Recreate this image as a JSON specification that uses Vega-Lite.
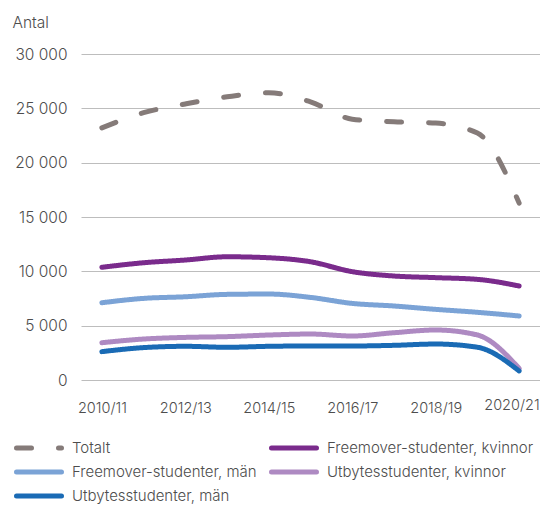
{
  "$schema": "https://vega.github.io/schema/vega-lite/v6.json",
  "width": 459,
  "height": 326,
  "autosize": "none",
  "padding": {"left": 81, "top": 54, "right": 0, "bottom": 125},
  "background": "white",
  "config": {"view": {"stroke": null}, "font": "Inter"},
  "data": {"values": [
    {"year": "2010/11", "series": "Totalt", "value": 23200},
    {"year": "2011/12", "series": "Totalt", "value": 24600},
    {"year": "2012/13", "series": "Totalt", "value": 25400},
    {"year": "2013/14", "series": "Totalt", "value": 26060},
    {"year": "2014/15", "series": "Totalt", "value": 26430},
    {"year": "2015/16", "series": "Totalt", "value": 25600},
    {"year": "2016/17", "series": "Totalt", "value": 24000},
    {"year": "2017/18", "series": "Totalt", "value": 23760},
    {"year": "2018/19", "series": "Totalt", "value": 23640},
    {"year": "2019/20", "series": "Totalt", "value": 22720},
    {"year": "2020/21", "series": "Totalt", "value": 16280},
    {"year": "2010/11", "series": "Freemover-studenter, kvinnor", "value": 10370},
    {"year": "2011/12", "series": "Freemover-studenter, kvinnor", "value": 10790},
    {"year": "2012/13", "series": "Freemover-studenter, kvinnor", "value": 11040},
    {"year": "2013/14", "series": "Freemover-studenter, kvinnor", "value": 11340},
    {"year": "2014/15", "series": "Freemover-studenter, kvinnor", "value": 11250},
    {"year": "2015/16", "series": "Freemover-studenter, kvinnor", "value": 10880},
    {"year": "2016/17", "series": "Freemover-studenter, kvinnor", "value": 9970},
    {"year": "2017/18", "series": "Freemover-studenter, kvinnor", "value": 9570},
    {"year": "2018/19", "series": "Freemover-studenter, kvinnor", "value": 9420},
    {"year": "2019/20", "series": "Freemover-studenter, kvinnor", "value": 9260},
    {"year": "2020/21", "series": "Freemover-studenter, kvinnor", "value": 8650},
    {"year": "2010/11", "series": "Freemover-studenter, män", "value": 7110},
    {"year": "2011/12", "series": "Freemover-studenter, män", "value": 7510},
    {"year": "2012/13", "series": "Freemover-studenter, män", "value": 7660},
    {"year": "2013/14", "series": "Freemover-studenter, män", "value": 7880},
    {"year": "2014/15", "series": "Freemover-studenter, män", "value": 7910},
    {"year": "2015/16", "series": "Freemover-studenter, män", "value": 7600},
    {"year": "2016/17", "series": "Freemover-studenter, män", "value": 7050},
    {"year": "2017/18", "series": "Freemover-studenter, män", "value": 6810},
    {"year": "2018/19", "series": "Freemover-studenter, män", "value": 6500},
    {"year": "2019/20", "series": "Freemover-studenter, män", "value": 6230},
    {"year": "2020/21", "series": "Freemover-studenter, män", "value": 5890},
    {"year": "2010/11", "series": "Utbytesstudenter, kvinnor", "value": 3430},
    {"year": "2011/12", "series": "Utbytesstudenter, kvinnor", "value": 3770},
    {"year": "2012/13", "series": "Utbytesstudenter, kvinnor", "value": 3920},
    {"year": "2013/14", "series": "Utbytesstudenter, kvinnor", "value": 3990},
    {"year": "2014/15", "series": "Utbytesstudenter, kvinnor", "value": 4140},
    {"year": "2015/16", "series": "Utbytesstudenter, kvinnor", "value": 4230},
    {"year": "2016/17", "series": "Utbytesstudenter, kvinnor", "value": 4050},
    {"year": "2017/18", "series": "Utbytesstudenter, kvinnor", "value": 4350},
    {"year": "2018/19", "series": "Utbytesstudenter, kvinnor", "value": 4600},
    {"year": "2019/20", "series": "Utbytesstudenter, kvinnor", "value": 4140},
    {"year": "2020/21", "series": "Utbytesstudenter, kvinnor", "value": 1070},
    {"year": "2010/11", "series": "Utbytesstudenter, män", "value": 2610},
    {"year": "2011/12", "series": "Utbytesstudenter, män", "value": 2980},
    {"year": "2012/13", "series": "Utbytesstudenter, män", "value": 3100},
    {"year": "2013/14", "series": "Utbytesstudenter, män", "value": 3010},
    {"year": "2014/15", "series": "Utbytesstudenter, män", "value": 3100},
    {"year": "2015/16", "series": "Utbytesstudenter, män", "value": 3130},
    {"year": "2016/17", "series": "Utbytesstudenter, män", "value": 3130},
    {"year": "2017/18", "series": "Utbytesstudenter, män", "value": 3190},
    {"year": "2018/19", "series": "Utbytesstudenter, män", "value": 3310},
    {"year": "2019/20", "series": "Utbytesstudenter, män", "value": 3010},
    {"year": "2020/21", "series": "Utbytesstudenter, män", "value": 830}
  ]},
  "mark": {"type": "line", "strokeWidth": 5, "strokeCap": "round", "strokeJoin": "round", "interpolate": "monotone"},
  "encoding": {
    "x": {
      "field": "year", "type": "ordinal",
      "scale": {"type": "point", "padding": 0.5},
      "axis": {
        "title": null, "values": ["2010/11", "2012/13", "2014/15", "2016/17", "2018/19", "2020/21"],
        "labelAngle": 0, "domain": false, "ticks": false, "grid": false,
        "labelFontSize": 14.5, "labelFontWeight": 300, "labelColor": "#4d4d4d", "labelBound": false,
        "labelAlign": {"condition": {"test": "datum.value === '2020/21'", "value": "right"}, "value": "center"},
        "labelOffset": {"condition": {"test": "datum.value === '2020/21'", "value": 20}, "value": 0},
        "labelPadding": {"condition": {"test": "datum.value === '2020/21'", "value": 18.5}, "value": 21}
      }
    },
    "y": {
      "field": "value", "type": "quantitative",
      "scale": {"domain": [0, 30000], "nice": false},
      "axis": {
        "values": [0, 5000, 10000, 15000, 20000, 25000, 30000],
        "labelExpr": "replace(format(datum.value, ','), ',', ' ')",
        "domain": false, "ticks": false, "grid": true, "gridColor": "#bdbdbd", "gridWidth": 1.2,
        "labelPadding": 14, "labelFontSize": 15.5, "labelFontWeight": 300, "labelColor": "#4d4d4d",
        "title": "Antal", "titleAngle": 0, "titleX": -69, "titleY": -32, "titleAlign": "left",
        "titleBaseline": "middle", "titleFontSize": 15.5, "titleFontWeight": 300, "titleColor": "#4d4d4d"
      }
    },
    "color": {
      "field": "series", "type": "nominal", "title": null,
      "scale": {
        "domain": ["Totalt", "Freemover-studenter, män", "Utbytesstudenter, män", "Freemover-studenter, kvinnor", "Utbytesstudenter, kvinnor"],
        "range": ["#857b79", "#7ba3d6", "#1a6bb5", "#7a2b8c", "#ae8ac2"]
      },
      "legend": {
        "orient": "none", "legendX": -67, "legendY": 385, "columns": 2, "columnPadding": 12, "rowPadding": 6, "clipHeight": 18,
        "symbolType": "stroke", "symbolSize": 2025, "symbolStrokeWidth": 5,
        "labelFontSize": 15, "labelFontWeight": 300, "labelColor": "#4d4d4d", "labelOffset": 8, "labelLimit": 400,
        "encode": {"symbols": {"update": {"strokeCap": {"value": "round"}}}}
      }
    },
    "strokeDash": {
      "field": "series", "type": "nominal", "title": null,
      "scale": {
        "domain": ["Totalt", "Freemover-studenter, män", "Utbytesstudenter, män", "Freemover-studenter, kvinnor", "Utbytesstudenter, kvinnor"],
        "range": [[15, 27], [1, 0], [1, 0], [1, 0], [1, 0]]
      },
      "legend": {
        "orient": "none", "legendX": -67, "legendY": 385, "columns": 2, "columnPadding": 12, "rowPadding": 6, "clipHeight": 18,
        "symbolType": "stroke", "symbolSize": 2025, "symbolStrokeWidth": 5,
        "labelFontSize": 15, "labelFontWeight": 300, "labelColor": "#4d4d4d", "labelOffset": 8, "labelLimit": 400,
        "encode": {"symbols": {"update": {"strokeCap": {"value": "round"}}}}
      }
    }
  }
}
